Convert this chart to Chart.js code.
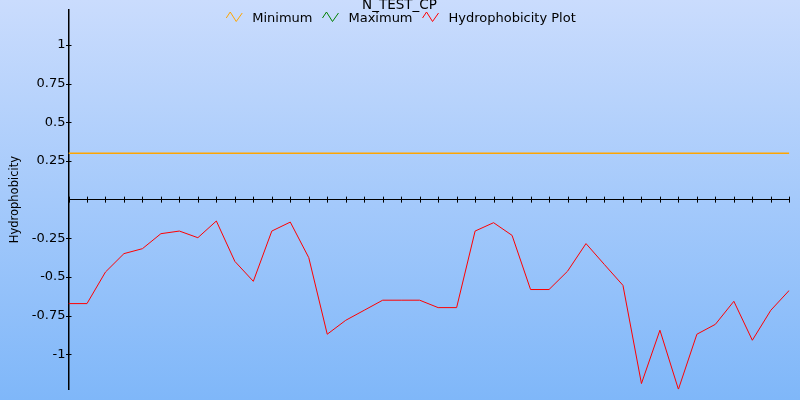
<!DOCTYPE html>
<html>
<head>
<meta charset="utf-8">
<script src="https://cdn.jsdelivr.net/npm/chart.js@4/dist/chart.umd.min.js"></script>
<style>
  html, body { margin: 0; padding: 0; }
  body { width: 800px; height: 400px; background: linear-gradient(#cadcfd, #7fb7f9); }
  canvas { display: block; }
</style>
</head>
<body>
<canvas id="hydroChart" width="800" height="400"></canvas>
<script>
// Residue positions along the sequence
const positions = [1, 2, 3, 4, 5, 6, 7, 8, 9, 10, 11, 12, 13, 14, 15, 16, 17, 18, 19, 20,
  21, 22, 23, 24, 25, 26, 27, 28, 29, 30, 31, 32, 33, 34, 35, 36, 37, 38, 39, 40];

// Hydrophobicity values
const hydrophobicity = [-0.672, -0.672, -0.468, -0.349, -0.317, -0.220, -0.203, -0.246, -0.138, -0.399,
  -0.528, -0.203, -0.145, -0.375, -0.870, -0.780, -0.715, -0.650, -0.650, -0.650,
  -0.698, -0.698, -0.203, -0.149, -0.231, -0.581, -0.581, -0.463, -0.284, -0.420,
  -0.554, -1.189, -0.844, -1.226, -0.870, -0.806, -0.657, -0.909, -0.715, -0.586];

const minimumLevel = 0.3;
const maximumValues = [];

const yTickValues = [-1, -0.75, -0.5, -0.25, 0, 0.25, 0.5, 0.75, 1];
const yLimit = 1.226;

const chartTitle = 'N_TEST_CP';
const FONT = '"DejaVu Sans", Verdana, sans-serif';

// Title and legend sit on top of the plot area, so draw them by hand
const overlayPlugin = {
  id: 'overlay',
  afterDraw(chart) {
    const ctx = chart.ctx;
    ctx.save();
    ctx.fillStyle = '#000';
    ctx.textAlign = 'center';
    ctx.textBaseline = 'alphabetic';
    ctx.font = '13.5px ' + FONT;
    ctx.fillText(chartTitle, 399.5, 9);

    // legend
    ctx.font = '13px ' + FONT;
    const items = chart.data.datasets.map(ds => ({
      label: ds.label,
      color: ds.borderColor,
      width: ctx.measureText(ds.label).width
    }));
    const iconW = 16, iconGap = 10, itemGap = 10;
    let total = 0;
    items.forEach((it, i) => {
      total += iconW + iconGap + it.width + (i < items.length - 1 ? itemGap : 0);
    });
    let x = 401 - total / 2;
    ctx.textAlign = 'left';
    items.forEach(it => {
      ctx.strokeStyle = it.color;
      ctx.lineWidth = 1;
      ctx.beginPath();
      ctx.moveTo(x, 18);
      ctx.lineTo(x + 4, 12);
      ctx.lineTo(x + 10, 21.5);
      ctx.lineTo(x + 16, 13);
      ctx.stroke();
      x += iconW + iconGap;
      ctx.fillText(it.label, x, 22);
      x += it.width + itemGap;
    });
    ctx.restore();
  }
};

// Tick marks that cross the axis lines
const crossTicksPlugin = {
  id: 'crossTicks',
  afterDraw(chart) {
    const ctx = chart.ctx;
    const xs = chart.scales.x;
    const ys = chart.scales.y;
    const y0 = ys.getPixelForValue(0);
    const x0 = chart.chartArea.left;
    ctx.save();
    ctx.strokeStyle = '#000';
    ctx.lineWidth = 1;
    ctx.beginPath();
    xs.ticks.forEach(t => {
      const px = Math.round(xs.getPixelForValue(t.value)) + 0.5;
      ctx.moveTo(px, y0 - 3);
      ctx.lineTo(px, y0 + 3);
    });
    ys.ticks.forEach(t => {
      if (t.value === 0) return;
      const py = Math.round(ys.getPixelForValue(t.value)) + 0.5;
      ctx.moveTo(x0 - 2.5, py);
      ctx.lineTo(x0 + 3, py);
    });
    ctx.stroke();
    ctx.restore();
  }
};

const ctx = document.getElementById('hydroChart').getContext('2d');

new Chart(ctx, {
  type: 'line',
  data: {
    labels: positions,
    datasets: [
      {
        label: 'Minimum',
        data: [
          { x: positions[0], y: minimumLevel },
          { x: positions[positions.length - 1], y: minimumLevel }
        ],
        borderColor: '#ffa500',
        borderWidth: 1.5,
        pointRadius: 0
      },
      {
        label: 'Maximum',
        data: maximumValues,
        borderColor: '#008000',
        borderWidth: 1,
        pointRadius: 0
      },
      {
        label: 'Hydrophobicity Plot',
        data: hydrophobicity,
        borderColor: '#ff0000',
        borderWidth: 1,
        tension: 0,
        pointRadius: 0
      }
    ]
  },
  options: {
    responsive: false,
    animation: false,
    layout: {
      padding: { top: 10, right: 10.7, bottom: 10.7, left: 0 }
    },
    plugins: {
      legend: { display: false },
      title: { display: false },
      tooltip: { enabled: false }
    },
    scales: {
      x: {
        type: 'linear',
        min: positions[0],
        max: positions[positions.length - 1],
        position: { y: 0 },
        grid: { display: false, drawTicks: false },
        border: { display: true, color: '#000', width: 1 },
        ticks: { display: false, stepSize: 1 },
        afterFit(scale) {
          scale.paddingLeft = 0;
          scale.paddingRight = 0;
        }
      },
      y: {
        min: -yLimit,
        max: yLimit,
        grid: { display: false, drawTicks: false },
        border: { display: true, color: '#000', width: 1.5 },
        afterBuildTicks(scale) {
          scale.ticks = yTickValues.map(v => ({ value: v }));
        },
        afterFit(scale) {
          scale.width = 68.5;
          scale.paddingTop = 0;
          scale.paddingBottom = 0;
        },
        ticks: {
          padding: 3,
          color: '#000',
          font: { family: FONT, size: 13 },
          callback: function(value) {
            return value === 0 ? '' : String(value);
          }
        },
        title: {
          display: true,
          text: 'Hydrophobicity',
          color: '#000',
          font: { family: FONT, size: 11.5 },
          padding: { top: 8, bottom: 0 }
        }
      }
    }
  },
  plugins: [overlayPlugin, crossTicksPlugin]
});
</script>
</body>
</html>
